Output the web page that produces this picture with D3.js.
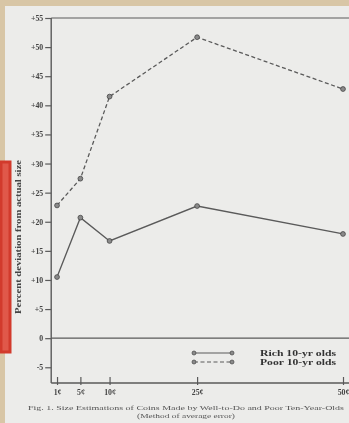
<!DOCTYPE html>
<html>
<head>
<meta charset="utf-8">
<script src="https://cdn.jsdelivr.net/npm/d3@7"></script>
<style>
  body { margin: 0; background: #d8c6a6; }
  svg { display: block; }
</style>
</head>
<body>
<script>
// coin values (cents) and the two groups of children
const coins = [1, 5, 10, 25, 50];
const coinLabels = ["1¢", "5¢", "10¢", "25¢", "50¢"];
const rich = [10.5, 20.7, 16.7, 22.7, 17.9];
const poor = [22.8, 27.4, 41.5, 51.7, 42.8];
const yTicks = [55, 50, 45, 40, 35, 30, 25, 20, 15, 10, 5, 0, -5];
const seriesNames = ["Rich 10-yr olds", "Poor 10-yr olds"];

const W = 349, H = 423;

const svg = d3.select("body").append("svg")
    .attr("width", W)
    .attr("height", H);

const defs = svg.append("defs");
defs.append("filter").attr("id", "scan")
    .append("feGaussianBlur").attr("stdDeviation", 0.45);

// scanned paper
svg.append("rect")
    .attr("x", 5).attr("y", 6)
    .attr("width", W - 5).attr("height", H - 6)
    .attr("fill", "#ececea");

// red marker bar on the left edge
svg.append("rect")
    .attr("x", 1).attr("y", 162)
    .attr("width", 9).attr("height", 190)
    .attr("fill", "#e0584a")
    .attr("stroke", "#d23a2c")
    .attr("stroke-width", 3);

const x = d3.scaleLinear().domain([0, 50]).range([51.2, 343]);
const y = d3.scaleLinear().domain([-7.7, 55]).range([383, 18]);

const g = svg.append("g").attr("filter", "url(#scan)");
const ink = "#5a5a5a";
const labelFont = "bold 7.8px 'Liberation Serif', serif";

// frame lines: top rule, zero line
g.append("line")
    .attr("x1", x(0)).attr("x2", W)
    .attr("y1", y(55)).attr("y2", y(55))
    .attr("stroke", ink).attr("stroke-width", 1.2);
g.append("line")
    .attr("x1", x(0)).attr("x2", W)
    .attr("y1", y(0)).attr("y2", y(0))
    .attr("stroke", ink).attr("stroke-width", 1.2);

// y axis
const yAxis = d3.axisLeft(y)
    .tickValues(yTicks)
    .tickSize(6)
    .tickPadding(2)
    .tickFormat(d => d > 0 ? "+" + d : String(d));
const ya = g.append("g")
    .attr("transform", `translate(${x(0)},0)`)
    .call(yAxis);
ya.select(".domain").remove();
ya.append("line")
    .attr("y1", y(55)).attr("y2", y(-7.7))
    .attr("stroke", ink).attr("stroke-width", 1.4);
ya.selectAll(".tick line").attr("stroke", ink).attr("stroke-width", 1.2);
ya.selectAll(".tick text")
    .attr("fill", "#444")
    .style("font", labelFont);

// x axis
const xAxis = d3.axisBottom(x)
    .tickValues(coins)
    .tickSize(0)
    .tickPadding(6)
    .tickFormat((d, i) => coinLabels[i]);
const xa = g.append("g")
    .attr("transform", `translate(0,${y(-7.7)})`)
    .call(xAxis);
xa.select(".domain").remove();
xa.append("line")
    .attr("x1", x(0)).attr("x2", W)
    .attr("stroke", ink).attr("stroke-width", 1.4);
xa.selectAll(".tick").append("line")
    .attr("y1", -6).attr("y2", 2)
    .attr("stroke", ink).attr("stroke-width", 1.2);
xa.selectAll(".tick text")
    .attr("fill", "#444")
    .style("font", labelFont);

// y axis title
g.append("text")
    .attr("transform", "translate(21,237) rotate(-90)")
    .attr("text-anchor", "middle")
    .attr("fill", "#444")
    .attr("textLength", 154)
    .attr("lengthAdjust", "spacingAndGlyphs")
    .style("font", "bold 8.8px 'Liberation Serif', serif")
    .text("Percent deviation from actual size");

// series
const line = d3.line()
    .x((d, i) => x(coins[i]))
    .y(d => y(d));

const series = [
    { values: rich, dash: null },
    { values: poor, dash: "4,2.5" }
];

series.forEach(s => {
    g.append("path")
        .datum(s.values)
        .attr("d", line)
        .attr("fill", "none")
        .attr("stroke", ink)
        .attr("stroke-width", 1.3)
        .attr("stroke-dasharray", s.dash);
    g.selectAll(null)
        .data(s.values)
        .join("circle")
        .attr("cx", (d, i) => x(coins[i]))
        .attr("cy", d => y(d))
        .attr("r", 2.4)
        .attr("fill", "#8a8a8a")
        .attr("stroke", "#444")
        .attr("stroke-width", 0.8);
});

// legend
const legend = g.append("g").attr("transform", "translate(194,353)");
series.forEach((s, i) => {
    const row = legend.append("g").attr("transform", `translate(0,${i * 9})`);
    row.append("line")
        .attr("x1", 0).attr("x2", 38)
        .attr("stroke", ink).attr("stroke-width", 1.2)
        .attr("stroke-dasharray", s.dash);
    row.selectAll("circle").data([0, 38]).join("circle")
        .attr("cx", d => d).attr("r", 2)
        .attr("fill", "#8a8a8a").attr("stroke", "#444").attr("stroke-width", 0.7);
    row.append("text")
        .attr("x", 66).attr("y", 3)
        .attr("fill", "#333")
        .attr("textLength", 76)
        .attr("lengthAdjust", "spacingAndGlyphs")
        .style("font", "bold 8.5px 'Liberation Serif', serif")
        .text(seriesNames[i]);
});

// caption
const cap = g.append("g").attr("fill", "#555")
    .style("font", "5.6px 'Liberation Serif', serif");
cap.append("text")
    .attr("x", 186).attr("y", 410)
    .attr("text-anchor", "middle")
    .attr("textLength", 316)
    .attr("lengthAdjust", "spacingAndGlyphs")
    .text("Fig. 1. Size Estimations of Coins Made by Well-to-Do and Poor Ten-Year-Olds");
cap.append("text")
    .attr("x", 186).attr("y", 418)
    .attr("text-anchor", "middle")
    .attr("textLength", 98)
    .attr("lengthAdjust", "spacingAndGlyphs")
    .text("(Method of average error)");
</script>
</body>
</html>
